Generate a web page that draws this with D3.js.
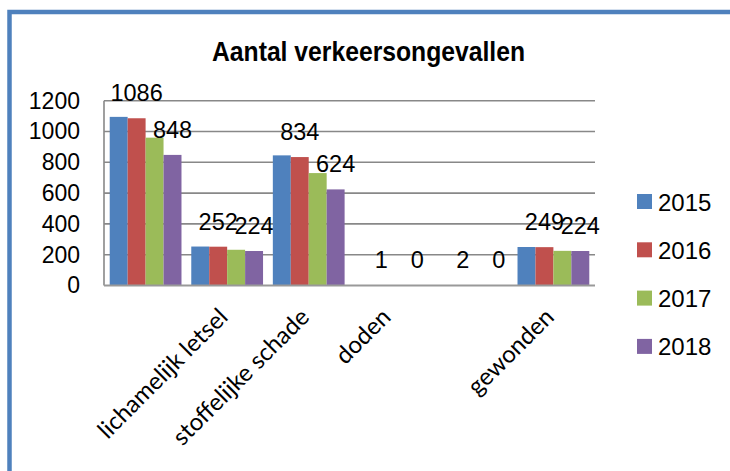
<!DOCTYPE html>
<html>
<head>
<meta charset="utf-8">
<script src="https://cdn.jsdelivr.net/npm/d3@7"></script>
<style>
  body { margin: 0; background: #fff; }
  svg { display: block; }
</style>
</head>
<body>
<div id="chart"></div>
<script>
// data
var categories = ["", "lichamelijk letsel", "stoffelijke schade", "doden", "", "gewonden"];
var years = ["2015", "2016", "2017", "2018"];
var values2015 = [1095, 253, 845, 2, 3, 250];
var values2016 = [1086, 252, 834, 1, 2, 249];
var values2017 = [960, 232, 730, 1, 1, 225];
var values2018 = [848, 224, 624, 0, 0, 224];
var yTicks = [0, 200, 400, 600, 800, 1000, 1200];
var labelledYears = ["2016", "2018"]; // only these series show data labels
var colors = ["#4f81bd", "#c0504d", "#9bbb59", "#8064a2"];
var title = "Aantal verkeersongevallen";

var series = [values2015, values2016, values2017, values2018];

var W = 730, H = 471;
var margin = { top: 100.7, right: 135, bottom: 185.5, left: 104 };
var width = W - margin.left - margin.right,
    height = H - margin.top - margin.bottom;

var svg = d3.select("#chart").append("svg")
    .attr("width", W)
    .attr("height", H);

// outer frame
svg.append("rect")
    .attr("x", 9.5).attr("y", 12)
    .attr("width", 900).attr("height", 700)
    .attr("fill", "none")
    .attr("stroke", "#4f81bd")
    .attr("stroke-width", 4.5);

// title
svg.append("text")
    .attr("x", 368.5).attr("y", 61)
    .attr("text-anchor", "middle")
    .attr("font-family", "Liberation Sans, Arial, sans-serif")
    .attr("font-weight", "bold")
    .attr("font-size", 27)
    .attr("textLength", 313)
    .attr("lengthAdjust", "spacingAndGlyphs")
    .text(title);

var g = svg.append("g")
    .attr("transform", "translate(" + margin.left + "," + margin.top + ")");

var x0 = d3.scaleBand()
    .domain(d3.range(categories.length))
    .range([0, width])
    .paddingInner(0.12)
    .paddingOuter(0.07);

var x1 = d3.scaleBand()
    .domain(years)
    .range([0, x0.bandwidth()]);

var y = d3.scaleLinear()
    .domain([0, 1200])
    .range([height, 0]);

// gridlines
g.append("g")
    .selectAll("line")
    .data(yTicks.slice(1))
    .enter().append("line")
    .attr("x1", 0).attr("x2", width)
    .attr("y1", function (d) { return y(d); })
    .attr("y2", function (d) { return y(d); })
    .attr("stroke", "#888")
    .attr("stroke-width", 1.6);

// left border of plot area
g.append("line")
    .attr("x1", 0).attr("x2", 0)
    .attr("y1", 0).attr("y2", height)
    .attr("stroke", "#888")
    .attr("stroke-width", 1.6);

// y axis labels
var yAxis = g.append("g")
    .call(d3.axisLeft(y).tickValues(yTicks).tickFormat(d3.format("d")).tickSize(0).tickPadding(24));
yAxis.select(".domain").remove();
yAxis.selectAll("text")
    .attr("font-family", "Liberation Sans, Arial, sans-serif")
    .attr("font-size", 23)
    .attr("fill", "#000");

// bars
var groups = g.selectAll(".cat")
    .data(categories)
    .enter().append("g")
    .attr("class", "cat")
    .attr("transform", function (d, i) { return "translate(" + x0(i) + ",0)"; });

groups.selectAll("rect")
    .data(function (d, i) {
        return years.map(function (yr, k) { return { year: yr, k: k, value: series[k][i] }; });
    })
    .enter().append("rect")
    .attr("x", function (d) { return x1(d.year); })
    .attr("width", x1.bandwidth())
    .attr("y", function (d) { return y(d.value); })
    .attr("height", function (d) { return height - y(d.value); })
    .attr("fill", function (d) { return colors[d.k]; });

// bottom axis line
g.append("line")
    .attr("x1", 0).attr("x2", width)
    .attr("y1", height).attr("y2", height)
    .attr("stroke", "#999")
    .attr("stroke-width", 2);

// data labels
groups.selectAll(".lbl")
    .data(function (d, i) {
        return years.map(function (yr, k) { return { year: yr, k: k, value: series[k][i] }; })
            .filter(function (d) { return labelledYears.indexOf(d.year) >= 0; });
    })
    .enter().append("text")
    .attr("class", "lbl")
    .attr("x", function (d) { return x1(d.year) + x1.bandwidth() / 2; })
    .attr("y", function (d) { return y(d.value) - 17; })
    .attr("text-anchor", "middle")
    .attr("font-family", "Liberation Sans, Arial, sans-serif")
    .attr("font-size", 23.5)
    .attr("fill", "#000")
    .text(function (d) { return d.value; });

// x axis labels (rotated)
var xAxis = g.append("g")
    .attr("transform", "translate(0," + height + ")")
    .call(d3.axisBottom(x0).tickSize(0).tickFormat(function (i) { return categories[i]; }));
xAxis.select(".domain").remove();
xAxis.selectAll("text")
    .attr("font-family", "Lato, Carlito, sans-serif")
    .attr("font-size", 24)
    .attr("fill", "#000")
    .attr("text-anchor", "end")
    .attr("y", 0).attr("dy", 0)
    .attr("transform", "translate(2,33) rotate(-45)");

// legend
var legend = svg.append("g")
    .attr("transform", "translate(637,194)");
var item = legend.selectAll("g")
    .data(years)
    .enter().append("g")
    .attr("transform", function (d, i) { return "translate(0," + (i * 48.3) + ")"; });
item.append("rect")
    .attr("width", 15).attr("height", 15)
    .attr("fill", function (d, i) { return colors[i]; });
item.append("text")
    .attr("x", 21).attr("y", 16.5)
    .attr("font-family", "Liberation Sans, Arial, sans-serif")
    .attr("font-size", 24)
    .attr("fill", "#000")
    .text(function (d) { return d; });
</script>
</body>
</html>
